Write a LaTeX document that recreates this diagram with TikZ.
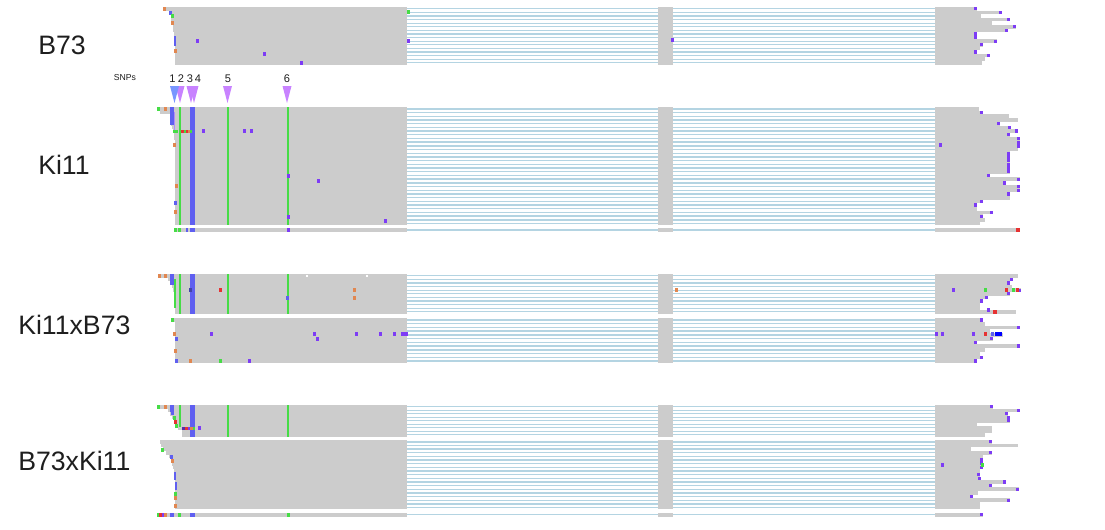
\documentclass[tikz,border=0pt]{standalone}
\usepackage{fontspec}
\setmainfont{Liberation Sans}
\definecolor{grayb}{RGB}{204,204,204}
\definecolor{lineb}{RGB}{180,212,226}
\definecolor{pu}{RGB}{125,60,245}
\definecolor{bl}{RGB}{95,95,240}
\definecolor{gn}{RGB}{70,220,70}
\definecolor{og}{RGB}{225,135,80}
\definecolor{rd}{RGB}{230,50,50}
\definecolor{snp}{RGB}{200,130,255}
\definecolor{snpa}{RGB}{120,150,255}
\definecolor{txt}{RGB}{30,30,30}
\tikzset{
  gr/.style={fill=grayb},
  ln/.style={draw=lineb,line width=1pt},
  lab/.style={font=\fontsize{20}{22}\selectfont,text=txt,anchor=west,inner sep=0pt},
  num/.style={font=\fontsize{8.3}{9}\selectfont,text=txt,inner sep=0pt},
  tri/.style={fill=snp}
}
\newcommand\drawpanel[3]{%
  \foreach \ls/\re/\mk [count=\i from 0] in {#3}{
    \pgfmathsetmacro\ya{#1+\i*#2}
    \fill[gr] (\ls,\ya) rectangle (407,\ya+#2);
    \fill[gr] (935,\ya) rectangle (\re,\ya+#2);
    \draw[ln] (407,\ya+#2/2) -- (935,\ya+#2/2);
    \ifnum\mk=1 \fill[pu] (\re-3,\ya+0.2) rectangle (\re,\ya+#2-0.2);\fi
  }}
\newcommand\mrk[3]{\fill[#1] (#2-1.5,#3-2) rectangle (#2+1.5,#3+2);}
\newcommand\vbar[5]{\fill[#1] (#2,#4) rectangle (#3,#5);}
\newcommand\tria[2]{\fill[#1] (#2-4.5,86) -- (#2+4.5,86) -- (#2,103) -- cycle;}
\begin{document}
\begin{tikzpicture}[x=0.75pt,y=-0.75pt]
\useasboundingbox (0,0) rectangle (1105,529);
% ---------------- labels
\node[lab] (lb73) at (38,45) {B73};
\node[lab] (lki) at (38,165) {Ki11};
\node[lab] (lkb) at (18,325) {Ki11xB73};
\node[lab] (lbk) at (18,461) {B73xKi11};
% ---------------- SNP markers
\node[num,font=\fontsize{6.5}{7}\selectfont] (snps) at (125,78) {SNPs};
\node[num] (n1) at (172.5,79) {1};
\node[num] (n2) at (181,79) {2};
\node[num] (n3) at (190,79) {3};
\node[num] (n4) at (198,79) {4};
\node[num] (n5) at (228,79) {5};
\node[num] (n6) at (287,79) {6};
\tria{snp}{180}
\tria{snpa}{174.5}
\tria{snp}{191}
\tria{snp}{194}
\tria{snp}{227.5}
\tria{snp}{287}
% ---------------- B73
\drawpanel{7}{3.6}{163/977/1,169/1002/1,171/981/0,171/1010/1,172/992/0,173/1016/1,173/1008/1,174/977/1,174/977/1,174/997/1,175/983/1,175/980/0,175/977/1,175/990/1,175/985/0,175/982/0}
\fill[gr] (658,7) rectangle (673,64.6);
\mrk{og}{164}{9}
\mrk{bl}{170}{12.5}
\mrk{gn}{172}{16}
\mrk{og}{172}{23}
\vbar{bl}{173.5}{175.5}{36}{46}
\mrk{og}{175}{51}
\mrk{gn}{408}{12}
\mrk{pu}{408}{41}
\mrk{pu}{197}{41}
\mrk{pu}{264}{54}
\mrk{pu}{301}{63}
\mrk{pu}{672}{40}
% ---------------- Ki11
\drawpanel{107}{3.7}{157/979/0,160/983/1,170/1009/0,170/1018/0,171/1000/1,172/1011/1,173/1018/1,174/1010/1,174/1020/1,175/1020/1,175/1020/1,175/1018/0,175/1010/1,175/1010/1,175/1010/1,175/1010/1,175/1010/1,175/1010/1,175/990/1,175/1020/1,175/1006/1,175/1020/1,175/1020/1,175/1010/1,175/1010/0,175/983/1,175/977/1,175/977/0,175/993/1,175/983/1,175/985/0,175/980/0}
\fill[gr] (658,107) rectangle (673,225.4);
\vbar{gn}{178.5}{180.5}{107}{225.4}
\vbar{bl}{190}{195}{107}{225.4}
\vbar{gn}{227}{229.3}{107}{225.4}
\vbar{gn}{286.5}{288.8}{107}{225.4}
\mrk{gn}{158.5}{109}
\mrk{og}{165}{109}
\vbar{bl}{170}{173.5}{107}{125}
\vbar{pu!60}{173.5}{174.5}{112}{132}
\vbar{gn}{173}{178}{129.5}{132.7}
\vbar{rd}{180.5}{184}{129.5}{132.7}
\vbar{gn}{184}{186}{129.5}{132.7}
\vbar{rd}{186}{188}{129.5}{132.7}
\vbar{og}{188}{190}{129.5}{132.7}
\vbar{gn}{190}{192}{129.5}{132.7}
\mrk{pu}{203}{131}
\mrk{pu}{244}{131}
\mrk{pu}{251}{131}
\mrk{pu}{288}{176}
\mrk{pu}{318}{181}
\mrk{pu}{288}{217}
\mrk{pu}{385}{221}
\mrk{og}{174.5}{145}
\mrk{og}{176}{186}
\mrk{bl}{175.5}{203}
\mrk{og}{175.5}{212}
\mrk{pu}{940}{145}
% Ki11 extra row
\drawpanel{228}{4}{175/1020/0}
\fill[gr] (658,228) rectangle (673,232);
\fill[rd] (1016,228.3) rectangle (1020,231.7);
\mrk{gn}{175.5}{230}
\mrk{gn}{179.5}{230}
\vbar{bl}{185.5}{188}{228}{232}
\vbar{bl}{190}{194.5}{228}{232}
\mrk{pu}{288}{230}
% ---------------- Ki11xB73 upper
\drawpanel{274}{3.6}{158/1018/0,168/1013/1,170/1010/1,172/1012/0,173/1021/1,174/1010/1,174/988/1,175/983/1,175/980/0,175/980/0,175/1016/0}
\fill[gr] (658,274) rectangle (673,313.6);
\vbar{gn}{178.5}{180.5}{274}{313.6}
\vbar{bl}{190}{195}{274}{313.6}
\vbar{gn}{227}{229.3}{274}{313.6}
\vbar{gn}{286.5}{288.8}{274}{313.6}
\mrk{og}{159}{276}
\mrk{og}{165}{276}
\vbar{bl}{170}{173.5}{274}{285}
\vbar{gn}{174}{176}{279}{308}
\mrk{bl!70!black}{190.5}{290}
\mrk{rd}{220}{290}
\mrk{og}{354}{290}
\mrk{og}{354}{298}
\mrk{bl}{287.5}{298}
\fill[white] (306,274.5) rectangle (307.5,276.5);
\fill[white] (366,274.5) rectangle (367.5,276.5);
\mrk{pu}{953}{290}
\mrk{gn}{985}{290}
\mrk{rd}{1006}{290}
\mrk{gn}{1013}{290}
\mrk{rd}{1017}{290}
\mrk{pu}{988}{310}
\vbar{rd}{993}{997}{310}{313.6}
\mrk{og}{676}{290}
% ---------------- Ki11xB73 lower
\drawpanel{318}{3.75}{172/983/1,175/985/0,175/1020/1,175/990/0,175/1003/0,175/993/1,175/977/1,175/1020/1,175/985/0,175/980/0,175/983/1,175/977/1}
\fill[gr] (658,318) rectangle (673,363);
\mrk{gn}{172}{320}
\mrk{og}{174.5}{334}
\mrk{bl}{176.5}{339}
\mrk{pu}{211}{334}
\mrk{pu}{314}{334}
\mrk{pu}{317}{339}
\mrk{pu}{356}{334}
\mrk{pu}{380}{334}
\mrk{pu}{394}{334}
\fill[pu] (401,332) rectangle (408,336);
\mrk{og}{175.5}{351}
\mrk{bl}{176.5}{361}
\mrk{og}{190}{361}
\mrk{gn}{220}{361}
\mrk{pu}{249}{361}
\mrk{pu}{936}{334}
\mrk{pu}{942}{334}
\mrk{pu}{973}{334}
\mrk{rd}{985}{334}
\mrk{bl}{992}{334}
\fill[blue] (995,332) rectangle (1002,336);
% ---------------- B73xKi11 upper
\drawpanel{405}{3.5}{157/993/1,168/1020/1,170/1008/1,172/1010/1,174/1010/1,176/977/0,178/992/0,182/992/0,182/985/0}
\fill[gr] (658,405) rectangle (673,436.5);
\vbar{gn}{178.5}{180.5}{405}{427}
\vbar{bl}{190}{195}{405}{436.5}
\vbar{gn}{227}{229.3}{405}{436.5}
\vbar{gn}{286.5}{288.8}{405}{436.5}
\mrk{gn}{158.5}{407}
\mrk{og}{165}{407}
\vbar{bl}{170}{173.5}{405}{412}
\mrk{bl}{172.5}{413}
\mrk{gn}{174}{418}
\mrk{rd}{175.5}{422}
\mrk{gn}{176.5}{426}
\vbar{pu!70!black}{182}{185}{426.5}{430}
\vbar{rd}{185}{188}{426.5}{430}
\vbar{pu}{188}{190}{426.5}{430}
\vbar{og}{190}{193}{426.5}{430}
\vbar{gn}{193}{195}{426.5}{430}
\mrk{pu}{199}{428}
% ---------------- B73xKi11 lower
\drawpanel{440}{3.65}{160/992/1,161/1018/0,163/971/0,166/992/1,169/983/0,171/983/1,172/983/1,173/983/1,174/980/0,175/980/1,175/981/1,175/1006/1,175/992/1,175/1019/1,175/978/0,175/973/1,175/1010/1,175/980/0,175/980/0}
\fill[gr] (658,440) rectangle (673,509.4);
\mrk{gn}{162.5}{450}
\mrk{bl}{171}{457}
\mrk{og}{172}{461}
\vbar{bl}{173.5}{175.5}{472}{480}
\vbar{bl}{175}{177}{482}{490}
\mrk{gn}{175.5}{494}
\mrk{og}{175.5}{498}
\mrk{og}{175}{506}
\mrk{pu}{942}{465}
\mrk{gn}{982}{465}
% B73xKi11 extra row
\drawpanel{512.5}{4}{157/983/1}
\fill[gr] (658,512.5) rectangle (673,516.5);
\mrk{gn}{158}{514.5}
\mrk{rd}{160.5}{514.5}
\mrk{pu}{163}{514.5}
\mrk{og}{165.5}{514.5}
\vbar{bl}{170}{174}{512.5}{516.5}
\mrk{gn}{179.5}{514.5}
\vbar{bl}{190}{194.5}{512.5}{516.5}
\mrk{gn}{288}{514.5}
\end{tikzpicture}
\end{document}
